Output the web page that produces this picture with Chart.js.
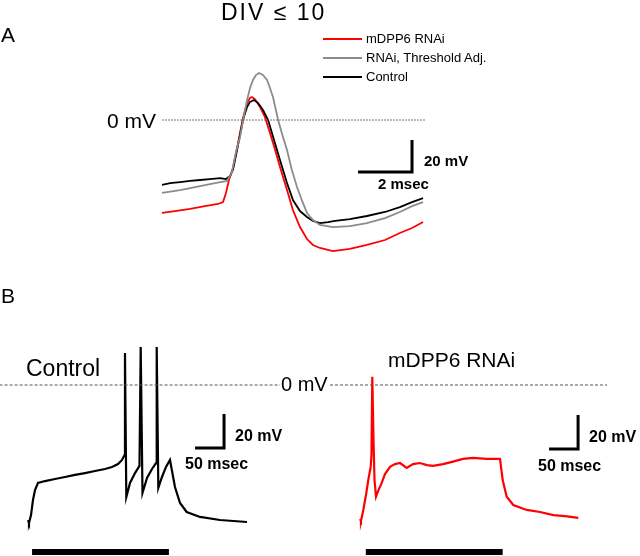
<!DOCTYPE html>
<html>
<head>
<meta charset="utf-8">
<title>DIV ≤ 10</title>
<script src="https://cdn.jsdelivr.net/npm/chart.js@4.4.0/dist/chart.umd.min.js"></script>
<style>
    body { margin: 0; background: #fff; }
    #figure { position: relative; width: 640px; height: 556px; font-family: Arial, "Liberation Sans", sans-serif; color: #000; }
    #figure canvas { position: absolute; left: 0; top: 0; }
    .label { position: absolute; line-height: 1; white-space: nowrap; }
    .bold { font-weight: bold; }
    .swatch { position: absolute; height: 2px; width: 39px; }
</style>
</head>
<body>
<div id="figure">
    <canvas id="chart" width="640" height="556"></canvas>

    <div class="label" style="left:1px; top:24px; font-size:21px;">A</div>
    <div class="label" style="left:221px; top:1px; font-size:23px; letter-spacing:2px;">DIV ≤ 10</div>

    <div class="swatch" style="left:323px; top:38px; background:#ff0000;"></div>
    <div class="swatch" style="left:323px; top:57px; background:#8c8c8c;"></div>
    <div class="swatch" style="left:323px; top:76px; background:#000;"></div>
    <div class="label" style="left:366px; top:32px; font-size:13px;">mDPP6 RNAi</div>
    <div class="label" style="left:366px; top:51px; font-size:13px;">RNAi, Threshold Adj.</div>
    <div class="label" style="left:366px; top:70px; font-size:13px;">Control</div>

    <div class="label" style="left:107px; top:110px; font-size:21px;">0 mV</div>
    <div class="label bold" style="left:424px; top:153px; font-size:15px;">20 mV</div>
    <div class="label bold" style="left:378px; top:176px; font-size:15px;">2 msec</div>

    <div class="label" style="left:1px; top:285px; font-size:21px;">B</div>
    <div class="label" style="left:26px; top:357px; font-size:23px;">Control</div>
    <div class="label" style="left:281px; top:374px; font-size:20px;">0 mV</div>
    <div class="label" style="left:388px; top:349px; font-size:21px;">mDPP6 RNAi</div>
    <div class="label bold" style="left:235px; top:428px; font-size:16px;">20 mV</div>
    <div class="label bold" style="left:185px; top:456px; font-size:16px;">50 msec</div>
    <div class="label bold" style="left:589px; top:429px; font-size:16px;">20 mV</div>
    <div class="label bold" style="left:538px; top:458px; font-size:16px;">50 msec</div>
</div>

<script>
// Panel A: single action potentials (time in msec, membrane potential in mV)
var controlApTime = [0, 0.30, 0.67, 1.04, 1.41, 1.78, 2.15, 2.37, 2.52, 2.63, 2.78, 2.89, 3.00, 3.15, 3.26, 3.41, 3.56, 3.74, 3.93, 4.15, 4.37, 4.63, 4.85, 5.11, 5.37, 5.59, 5.85, 6.15, 6.41, 6.96, 7.59, 8.26, 8.81, 9.26, 9.67];
var controlApMv   = [-40.6, -39.4, -38.8, -38.1, -37.5, -36.9, -36.3, -36.9, -35, -31, -18.8, -9.4, 0, 8.1, 11.3, 12.5, 10.6, 6.3, 0, -12.5, -25, -39.4, -50, -56.9, -60.6, -63.1, -64.4, -63.8, -63.1, -61.9, -60, -57.5, -54.4, -51.3, -48.8];

var rnaiApTime = [0, 0.48, 1.04, 1.59, 2.07, 2.26, 2.37, 2.48, 2.63, 2.78, 2.89, 3.00, 3.15, 3.26, 3.33, 3.44, 3.63, 3.81, 4.00, 4.19, 4.37, 4.63, 4.85, 5.11, 5.37, 5.59, 5.85, 6.33, 6.96, 7.59, 8.26, 8.81, 9.26, 9.67];
var rnaiApMv   = [-58.1, -56.9, -55.6, -53.8, -52.5, -51.3, -45.6, -37.5, -30, -17.5, -8.1, 1.3, 10.6, 13.8, 14.4, 13.1, 8.1, 1.9, -8.1, -18.8, -29.4, -43.8, -56.3, -66.9, -74.4, -78.1, -80, -81.9, -80.6, -78.1, -75, -70.6, -67.5, -63.8];

var adjustedApTime = [0, 0.67, 1.41, 1.96, 2.41, 2.59, 2.74, 2.89, 3.04, 3.15, 3.26, 3.37, 3.48, 3.59, 3.74, 3.89, 4.00, 4.11, 4.30, 4.48, 4.63, 4.81, 5.00, 5.19, 5.37, 5.59, 5.85, 6.33, 6.96, 7.59, 8.26, 8.81, 9.26, 9.67];
var adjustedApMv   = [-45.6, -43.8, -41.3, -39.4, -38.1, -32.5, -20, -10.6, 3.1, 12.5, 20, 25, 28.1, 29.4, 28.1, 25, 20, 14.4, 0, -10.6, -18.8, -31.3, -41.9, -50.6, -58.1, -62.5, -65.6, -66.9, -66.3, -64.4, -61.3, -57.5, -53.8, -51.3];

// Panel B: responses to a current step (time in msec, membrane potential in mV)
var controlTrainTime = [0, 1.7, 5.2, 8.6, 12.1, 17.2, 29.3, 46.6, 63.8, 81, 98.3, 115.5, 132.8, 144.8, 155.2, 162.1, 166.4, 167.2, 169.5, 175.9, 184.5, 192.2, 194.3, 197.4, 205.2, 213.8, 220.7, 221.9, 224.7, 231, 237.9, 244.8, 253.4, 262.1, 273.6, 296.6, 331, 377.6];
var controlTrainMv   = [-79.4, -81.2, -76.5, -67.6, -61.8, -57.6, -56.5, -55.3, -54.1, -52.9, -51.8, -50.6, -49.4, -48.2, -46.5, -44.1, -41.2, 18.8, -65.9, -57.6, -51.8, -47.6, 22.4, -63.5, -54.7, -49.4, -45.9, 22.4, -60.6, -54.1, -48.2, -44.1, -60, -69.4, -74.7, -77.6, -79.4, -80.6];

var rnaiTrainTime = [0, 1.7, 5.7, 10.3, 14.3, 18.4, 19.8, 21.2, 23.3, 25, 27.6, 31.9, 37.4, 43.1, 51.7, 60.3, 69, 80.5, 91.4, 103.4, 115.5, 125.9, 143.1, 160.3, 177.6, 194.8, 219, 241.4, 246, 252.9, 264.3, 287.4, 310.3, 333.3, 353.4, 376.4];
var rnaiTrainMv   = [-78.8, -80, -73.5, -64.7, -55.9, -48.2, -41.2, 4.9, -32.4, -55.9, -65.7, -61.8, -57.6, -52.4, -48.1, -46.5, -45.9, -48.8, -46.5, -45.9, -47.1, -47.6, -46.5, -45.1, -43.5, -42.9, -43.5, -43.5, -55.9, -65.7, -70.6, -73.5, -74.7, -76.5, -77.1, -78.2];

// current step (msec), scale bar sizes
var controlStep = [7, 243];
var rnaiStep = [10, 246];
var scaleBarA = [2, 20];   // msec, mV
var scaleBarB = [50, 20];  // msec, mV

/**
 * ------------------------------------------------------------------------
 *  Layout: where 0 of each hidden axis lies on the canvas, and its px per unit
 * ------------------------------------------------------------------------
 */
var canvasW = 640, canvasH = 556;

/**
 * Function to get the range of a hidden x axis
 *
 * @param number zeroPx
 * @param number pxPerUnit
 */
function xRange(zeroPx, pxPerUnit) {
    var min = -zeroPx / pxPerUnit;
    return { min: min, max: min + canvasW / pxPerUnit };
}

/**
 * Function to get the range of a hidden y axis
 *
 * @param number zeroPx
 * @param number pxPerUnit
 */
function yRange(zeroPx, pxPerUnit) {
    var max = zeroPx / pxPerUnit;
    return { min: max - canvasH / pxPerUnit, max: max };
}

/**
 * Function to zip two arrays into chart points
 *
 * @param array times
 * @param array values
 */
function toPoints(times, values) {
    return times.map(function (t, i) {
        return { x: t, y: values[i] };
    });
}

/**
 * Function to build a line dataset
 */
function trace(points, xId, yId, color, width, dash) {
    return {
        data: points,
        xAxisID: xId,
        yAxisID: yId,
        borderColor: color,
        borderWidth: width,
        borderDash: dash || [],
        borderCapStyle: 'butt',
        borderJoinStyle: 'miter',
        pointRadius: 0,
        tension: 0,
        fill: false
    };
}

/**
 * Function to build an L shaped scale bar, corner at (t, mv)
 */
function scaleBar(size, t, mv, xId, yId) {
    return trace([
        { x: t - size[0], y: mv },
        { x: t, y: mv },
        { x: t, y: mv + size[1] }
    ], xId, yId, '#000', 3);
}

function hidden(range) {
    return { type: 'linear', display: false, min: range.min, max: range.max };
}

var datasets = [
    // panel A
    trace([{ x: 0, y: 0 }, { x: 9.74, y: 0 }], 'xA', 'yA', '#555', 0.8, [2, 1]),
    trace(toPoints(adjustedApTime, adjustedApMv), 'xA', 'yA', '#8c8c8c', 1.8),
    trace(toPoints(controlApTime, controlApMv), 'xA', 'yA', '#000', 1.8),
    trace(toPoints(rnaiApTime, rnaiApMv), 'xA', 'yA', '#ff0000', 1.8),
    scaleBar(scaleBarA, 9.26, -32.5, 'xA', 'yA'),

    // panel B, control
    trace([{ x: -49, y: 0 }, { x: 434.5, y: 0 }], 'xL', 'yB', '#555', 1, [3, 2]),
    trace(toPoints(controlTrainTime, controlTrainMv), 'xL', 'yB', '#000', 2.2),
    scaleBar(scaleBarB, 338, -37, 'xL', 'yB'),
    trace([{ x: controlStep[0], y: -98.2 }, { x: controlStep[1], y: -98.2 }], 'xL', 'yB', '#000', 6),

    // panel B, mDPP6 RNAi
    trace([{ x: -51.7, y: 0 }, { x: 425.9, y: 0 }], 'xR', 'yB', '#555', 1, [3, 2]),
    trace(toPoints(rnaiTrainTime, rnaiTrainMv), 'xR', 'yB', '#ff0000', 2.2),
    scaleBar(scaleBarB, 376, -37.6, 'xR', 'yB'),
    trace([{ x: rnaiStep[0], y: -98.2 }, { x: rnaiStep[1], y: -98.2 }], 'xR', 'yB', '#000', 6)
];

new Chart(document.getElementById('chart').getContext('2d'), {
    type: 'line',
    data: { datasets: datasets },
    options: {
        responsive: false,
        animation: false,
        layout: { padding: 0 },
        plugins: { legend: { display: false }, tooltip: { enabled: false } },
        scales: {
            xA: hidden(xRange(162, 27)),
            yA: hidden(yRange(120, 1.6)),
            xL: hidden(xRange(28, 0.58)),
            xR: hidden(xRange(360, 0.58)),
            yB: hidden(yRange(385, 1.7))
        }
    }
});
</script>
</body>
</html>
